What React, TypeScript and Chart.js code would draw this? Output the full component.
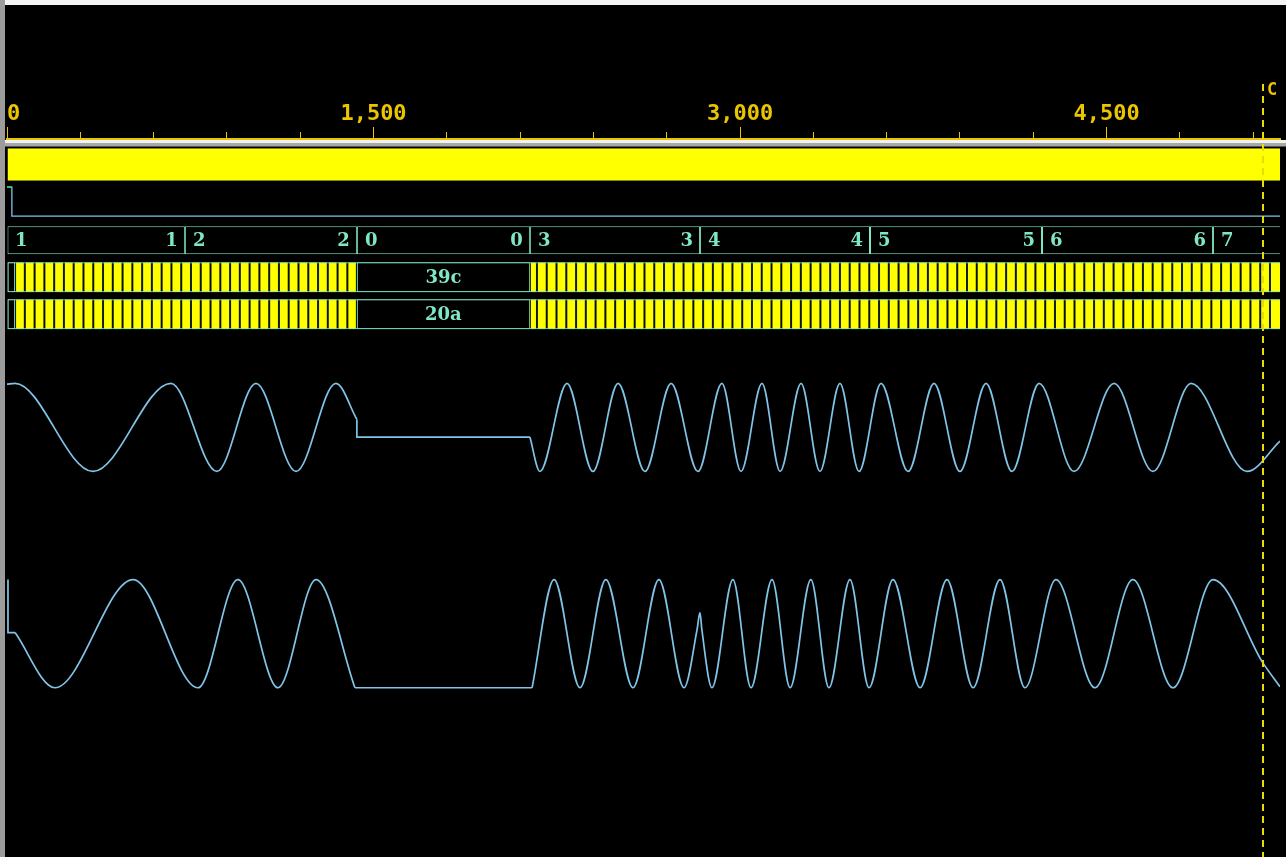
import React, { useEffect, useRef } from 'react';
import { Chart, registerables } from 'chart.js';

Chart.register(...registerables);

// ================= DATA =================
const timeMax = 5210;
const tickStep = 300;
const labelStep = 1500;
const cursorTime = 5140;
const cursorLabel = 'C';

// clock lane: toggles too fast to resolve -> solid block
const clkSpan = [0, 5210];

// reset
const resetTimes = [0, 20, 5210];
const resetValues = [1, 0, 0];

// counter bus
const counterStarts = [0, 728, 1432, 2140, 2836, 3532, 4236, 4936];
const counterValues = ['1', '2', '0', '3', '4', '5', '6', '7'];

// data buses (change instants)
const dataChangeTimes = [
  33, 73, 113, 153, 193, 233, 273, 313, 353, 393, 433, 473, 513, 553, 593, 633, 673, 713,
  753, 793, 833, 873, 913, 953, 993, 1033, 1073, 1113, 1153, 1193, 1233, 1273, 1313, 1353,
  1393, 1432,
  2140, 2169, 2209, 2249, 2289, 2329, 2369, 2409, 2449, 2489, 2529, 2569, 2609, 2649, 2689,
  2729, 2769, 2809, 2849, 2889, 2929, 2969, 3009, 3049, 3089, 3129, 3169, 3209, 3249, 3289,
  3329, 3369, 3409, 3449, 3489, 3529, 3569, 3609, 3649, 3689, 3729, 3769, 3809, 3849, 3889,
  3929, 3969, 4009, 4049, 4089, 4129, 4169, 4209, 4249, 4289, 4329, 4369, 4409, 4449, 4489,
  4529, 4569, 4609, 4649, 4689, 4729, 4769, 4809, 4849, 4889, 4929, 4969, 5009, 5049, 5089,
  5129, 5169,
];
const dataIdleStart = 1432;
const dataAIdleValue = '39c';
const dataBIdleValue = '20a';

// analog wave A
const waveAHeadTimes = [0, 33, 352, 671, 859, 1019, 1183, 1346, 1432];
const waveAHeadValues = [98, 100, -100, 100, -100, 100, -100, 100, 18];
const waveAIdleTimes = [1432, 1432, 2140];
const waveAIdleValues = [18, -22, -22];
const waveATailTimes = [2140, 2181, 2292, 2398, 2501, 2611, 2718, 2828, 2926, 3004, 3090, 3164, 3250, 3327, 3409, 3487, 3577, 3688, 3794, 3900, 4007, 4113, 4224, 4367, 4531, 4690, 4846, 5075, 5210];
const waveATailValues = [-22, -100, 100, -100, 100, -100, 100, -100, 100, -100, 100, -100, 100, -100, 100, -100, 100, -100, 100, -100, 100, -100, 100, -100, 100, -100, 100, -100, -31];

// analog wave B
const waveBLeadTimes = [4, 4, 33];
const waveBLeadValues = [100, 2, 2];
const waveBHeadTimes = [33, 196, 516, 782, 945, 1109, 1265, 1424];
const waveBHeadValues = [2, -100, 100, -100, 100, -100, 100, -100];
const waveBIdleTimes = [1424, 2149];
const waveBIdleValues = [-100, -100];
const waveBTailTimes = [2149, 2239, 2345, 2451, 2562, 2668, 2771, 2824, 2836, 2844, 2885, 2971, 3045, 3131, 3205, 3290, 3364, 3450, 3528, 3626, 3737, 3847, 3954, 4064, 4166, 4293, 4453, 4608, 4772, 4936, 5140, 5210];
const waveBTailValues = [-100, 100, -100, 100, -100, 100, -100, 7, 39, 7, -100, 100, -100, 100, -100, 100, -100, 100, -100, 100, -100, 100, -100, 100, -100, 100, -100, 100, -100, 100, -54, -98];

// ================= LAYOUT / STYLE =================
const GOLD = '#ebc600';
const CURSOR = '#e8dc00';
const TEAL = '#7fe6c6';
const WAVE = '#80c4e8';
const GREEN = '#20e060';
const YELLOW = '#ffff00';
const OLIVE = '#8a8a00';
const SEP = '#10201c';

const lanes = {
  clk: { center: 165.5, height: 33 },
  reset: { hi: 188, lo: 217 },
  counter: { center: 241, height: 28 },
  dataA: { center: 278, height: 30 },
  dataB: { center: 315, height: 30 },
  waveA: { hi: 384, lo: 472 },
  waveB: { hi: 580, lo: 688 },
};
const waveFull = 100;

function waveY(lane: { hi: number; lo: number }, v: number) {
  return (lane.hi + lane.lo) / 2 - (v / waveFull) * (lane.lo - lane.hi) / 2;
}
function pts(times: number[], values: number[], map: (v: number) => number) {
  return times.map((t, i) => ({ x: t, y: map(values[i]) }));
}
function lineDs(data: any[], smooth: boolean, color = WAVE, width = 1.7) {
  return {
    type: 'line',
    data,
    borderColor: color,
    borderWidth: width,
    pointRadius: 0,
    pointHoverRadius: 0,
    fill: false,
    tension: 0,
    cubicInterpolationMode: smooth ? 'monotone' : 'default',
  } as any;
}
function busDs(segs: { start: number; end: number; fill: string }[], lane: { center: number; height: number }, border: string | string[], bw: any) {
  return {
    type: 'bar',
    indexAxis: 'y',
    data: segs.map((s) => ({ x: [s.start, s.end], y: lane.center })),
    backgroundColor: segs.map((s) => s.fill),
    borderColor: border,
    borderWidth: bw,
    borderSkipped: false,
    barThickness: lane.height,
    grouped: false,
    inflateAmount: 0,
  } as any;
}

export default function App() {
  const ref = useRef<HTMLCanvasElement>(null);

  useEffect(() => {
    const counterSegs = counterStarts.map((s, i) => ({
      start: s,
      end: i + 1 < counterStarts.length ? counterStarts[i + 1] : timeMax + 60,
      value: counterValues[i],
      fill: '#000000',
    }));
    const edges = [0, ...dataChangeTimes, timeMax + 60];
    const dataSegs = edges.slice(0, -1).map((s, i) => ({
      start: s,
      end: edges[i + 1],
      idle: s === dataIdleStart,
      lead: i === 0,
      fill: s === dataIdleStart || i === 0 ? '#000000' : YELLOW,
    }));
    const denseSegs = dataSegs.filter((s) => !s.idle && !s.lead);
    const plainSegs = dataSegs.filter((s) => s.idle || s.lead);
    const frameSeg = [{ start: 0, end: timeMax + 60, fill: 'rgba(0,0,0,0)' }];

    const mapA = (v: number) => waveY(lanes.waveA, v);
    const mapB = (v: number) => waveY(lanes.waveB, v);
    const mapR = (v: number) => (v ? lanes.reset.hi : lanes.reset.lo);

    const resetHigh: any[] = [];
    resetTimes.forEach((t, i) => {
      if (resetValues[i] && i + 1 < resetTimes.length) {
        resetHigh.push({ x: t, y: mapR(1) }, { x: resetTimes[i + 1], y: mapR(1) });
      }
    });

    const resetLine = lineDs(pts(resetTimes, resetValues, mapR), false, WAVE, 1.3);
    resetLine.stepped = 'before';

    const datasets: any[] = [
      lineDs(resetHigh, false, GREEN, 1.5),
      resetLine,
      lineDs(pts(waveAHeadTimes, waveAHeadValues, mapA), true),
      lineDs(pts(waveAIdleTimes, waveAIdleValues, mapA), false),
      lineDs(pts(waveATailTimes, waveATailValues, mapA), true),
      lineDs(pts(waveBLeadTimes, waveBLeadValues, mapB), false),
      lineDs(pts(waveBHeadTimes, waveBHeadValues, mapB), true),
      lineDs(pts(waveBIdleTimes, waveBIdleValues, mapB), false),
      lineDs(pts(waveBTailTimes, waveBTailValues, mapB), true),
      // frames on top
      busDs(frameSeg, lanes.dataA, TEAL, { top: 1, bottom: 1, left: 1, right: 0 }),
      busDs(frameSeg, lanes.dataB, TEAL, { top: 1, bottom: 1, left: 1, right: 0 }),
      busDs(plainSegs, lanes.dataA, TEAL, 1),
      busDs(plainSegs, lanes.dataB, TEAL, 1),
      busDs(denseSegs, lanes.dataA, SEP, { top: 0, bottom: 0, left: 1, right: 1 }),
      busDs(denseSegs, lanes.dataB, SEP, { top: 0, bottom: 0, left: 1, right: 1 }),
      busDs([{ start: clkSpan[0], end: clkSpan[1], fill: YELLOW }], lanes.clk, OLIVE, { top: 1, bottom: 1, left: 0, right: 0 }),
      busDs(counterSegs, lanes.counter, TEAL, 1),
    ];

    const decor = {
      id: 'decor',
      beforeDraw(chart: any) {
        const { ctx, width, height } = chart;
        ctx.save();
        ctx.fillStyle = '#000';
        ctx.fillRect(0, 0, width, height);
        ctx.restore();
      },
      beforeDatasetsDraw(chart: any) {
        const { ctx, width, chartArea } = chart;
        const y0 = Math.round(chartArea.top);
        ctx.save();
        ctx.fillStyle = '#f2f2f2';
        ctx.fillRect(5, y0 + 1, width - 5, 3);
        ctx.fillStyle = '#a8a8a8';
        ctx.fillRect(5, y0 + 4, width - 5, 3);
        ctx.fillStyle = '#555555';
        ctx.fillRect(5, y0 + 7, width - 5, 1);
        ctx.restore();
      },
      afterDatasetsDraw(chart: any) {
        const { ctx, chartArea } = chart;
        const xs = chart.scales.x;
        const ys = chart.scales.y;
        ctx.save();
        ctx.beginPath();
        ctx.rect(chartArea.left, chartArea.top, chartArea.right - chartArea.left, chartArea.bottom - chartArea.top);
        ctx.clip();
        ctx.font = 'bold 18px "DejaVu Serif"';
        ctx.fillStyle = TEAL;
        ctx.textBaseline = 'middle';
        const cy = ys.getPixelForValue(lanes.counter.center) + 1;
        counterSegs.forEach((s) => {
          const x0 = xs.getPixelForValue(s.start);
          const x1 = xs.getPixelForValue(s.end);
          ctx.textAlign = 'left';
          ctx.fillText(s.value, x0 + 8, cy);
          if (s.end <= timeMax) {
            ctx.textAlign = 'right';
            ctx.fillText(s.value, x1 - 7, cy);
          }
        });
        dataSegs.forEach((s) => {
          if (!s.idle) return;
          const xm = (xs.getPixelForValue(s.start) + xs.getPixelForValue(s.end)) / 2;
          ctx.textAlign = 'center';
          ctx.fillText(dataAIdleValue, xm, ys.getPixelForValue(lanes.dataA.center) + 1);
          ctx.fillText(dataBIdleValue, xm, ys.getPixelForValue(lanes.dataB.center) + 1);
        });
        ctx.restore();
      },
      afterDraw(chart: any) {
        const { ctx, chartArea, width, height } = chart;
        const xs = chart.scales.x;
        const top = Math.round(chartArea.top);
        ctx.save();
        // major tick extensions
        ctx.strokeStyle = GOLD;
        ctx.lineWidth = 1;
        xs.ticks.forEach((t: any) => {
          if (t.value % labelStep !== 0) return;
          const x = Math.round(xs.getPixelForValue(t.value) - 0.5) + 0.5;
          ctx.beginPath();
          ctx.moveTo(x, top - 12);
          ctx.lineTo(x, top - 6);
          ctx.stroke();
        });
        // cursor
        const cx = Math.round(xs.getPixelForValue(cursorTime));
        ctx.strokeStyle = CURSOR;
        ctx.lineWidth = 2;
        ctx.setLineDash([7, 5]);
        ctx.beginPath();
        ctx.moveTo(cx, 84);
        ctx.lineTo(cx, height);
        ctx.stroke();
        ctx.setLineDash([]);
        ctx.fillStyle = GOLD;
        ctx.font = 'bold 17px "DejaVu Sans Mono"';
        ctx.textAlign = 'left';
        ctx.textBaseline = 'alphabetic';
        ctx.fillText(cursorLabel, cx + 4, 95);
        // window frame
        ctx.fillStyle = '#f4f4f4';
        ctx.fillRect(0, 0, width, 5);
        ctx.fillStyle = '#9c9c9c';
        ctx.fillRect(0, 0, 5, height);
        ctx.restore();
      },
    };

    const chart = new Chart(ref.current as HTMLCanvasElement, {
      type: 'line',
      data: { datasets },
      options: {
        animation: false,
        responsive: false,
        maintainAspectRatio: false,
        events: [],
        layout: { padding: { left: 7, right: 6, top: 95.8, bottom: 0 } },
        plugins: { legend: { display: false }, tooltip: { enabled: false } },
        scales: {
          x: {
            type: 'linear',
            position: 'top',
            min: 0,
            max: timeMax,
            offset: false,
            beginAtZero: false,
            grid: { drawOnChartArea: false, drawTicks: true, tickLength: 7, tickColor: GOLD, tickWidth: 1, offset: false },
            border: { display: true, color: GOLD, width: 2 },
            ticks: {
              stepSize: tickStep,
              autoSkip: false,
              maxRotation: 0,
              minRotation: 0,
              includeBounds: false,
              align: 'inner',
              padding: 6,
              color: GOLD,
              font: { family: '"DejaVu Sans Mono"', size: 22, weight: 'bold', lineHeight: 1.1 },
              callback: (v: any) => (Number(v) % labelStep === 0 ? Number(v).toLocaleString('en-US') : ''),
            },
          },
          y: { type: 'linear', min: 140, max: 857, reverse: true, display: false, offset: false, grid: { offset: false } },
        },
      } as any,
      plugins: [decor],
    });
    return () => chart.destroy();
  }, []);

  return (
    <div style={{ position: 'fixed', left: 0, top: 0, width: 1286, height: 857, background: '#000', overflow: 'hidden' }}>
      <canvas ref={ref} width={1286} height={857} style={{ display: 'block' }} />
    </div>
  );
}
